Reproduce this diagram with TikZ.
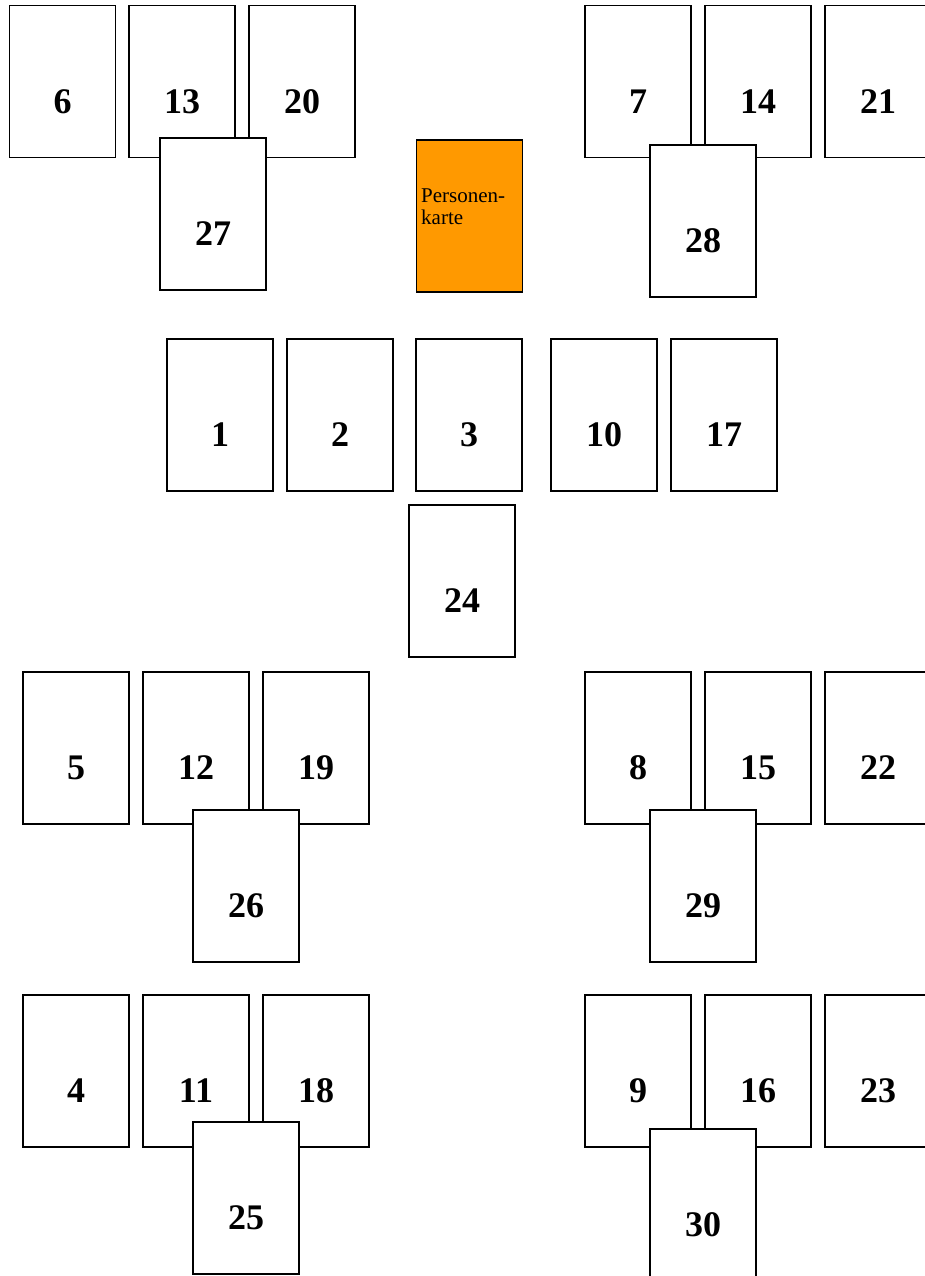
\documentclass[tikz,border=0pt]{standalone}
\usepackage{fontspec}
\setmainfont{Liberation Serif}
\usepackage{xcolor}
\usepackage{tikz}
\definecolor{personcolor}{RGB}{255,153,0}

\begin{document}
\begin{tikzpicture}[x=1pt, y=-1pt,
    card/.style={draw, line width=1.4pt, fill=white, inner sep=0pt,
        minimum width=106pt, minimum height=152pt,
        label={[yshift=-20pt, font=\fontsize{36}{36}\selectfont\bfseries]center:#1}}]
    \useasboundingbox (0,0) rectangle (924,1276);

    % Top left group
    \node[card=6] (c6) at (62.5, 81.5) {};
    \node[card=13] (c13) at (182, 81.5) {};
    \node[card=20] (c20) at (302, 81.5) {};
    \node[card=27] (c27) at (213, 214) {};

    % Person card
    \node[card={}, fill=personcolor] (person) at (469.5, 216) {};
    \node[anchor=north west, align=left, inner sep=0pt,
        font=\fontsize{21}{22}\selectfont] (persontext) at (421, 189) {Personen-\\karte};

    % Top right group
    \node[card=7] (c7) at (638, 81.5) {};
    \node[card=14] (c14) at (758, 81.5) {};
    \node[card=21] (c21) at (878, 81.5) {};
    \node[card=28] (c28) at (703, 221) {};

    % Middle row
    \node[card=1] (c1) at (220, 415) {};
    \node[card=2] (c2) at (340, 415) {};
    \node[card=3] (c3) at (469, 415) {};
    \node[card=10] (c10) at (604, 415) {};
    \node[card=17] (c17) at (724, 415) {};
    \node[card=24] (c24) at (462, 581) {};

    % Lower left groups
    \node[card=5] (c5) at (76, 748) {};
    \node[card=12] (c12) at (196, 748) {};
    \node[card=19] (c19) at (316, 748) {};
    \node[card=26] (c26) at (246, 886) {};

    \node[card=4] (c4) at (76, 1071) {};
    \node[card=11] (c11) at (196, 1071) {};
    \node[card=18] (c18) at (316, 1071) {};
    \node[card=25] (c25) at (246, 1198) {};

    % Lower right groups
    \node[card=8] (c8) at (638, 748) {};
    \node[card=15] (c15) at (758, 748) {};
    \node[card=22] (c22) at (878, 748) {};
    \node[card=29] (c29) at (703, 886) {};

    \node[card=9] (c9) at (638, 1071) {};
    \node[card=16] (c16) at (758, 1071) {};
    \node[card=23] (c23) at (878, 1071) {};
    \node[card=30] (c30) at (703, 1205) {};
\end{tikzpicture}
\end{document}
